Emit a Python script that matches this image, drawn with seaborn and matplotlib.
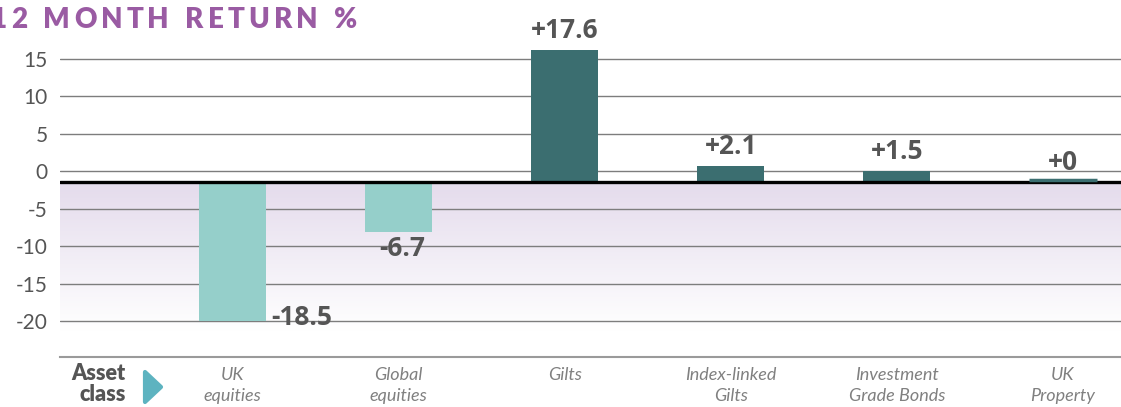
import numpy as np
import pandas as pd
import matplotlib.pyplot as plt
import seaborn as sns
from matplotlib.colors import LinearSegmentedColormap
from matplotlib.patches import Polygon

# data
categories = ['UK\nequities', 'Global\nequities', 'Gilts', 'Index-linked\nGilts',
              'Investment\nGrade Bonds', 'UK\nProperty']
returns = [-18.5, -6.7, 17.6, 2.1, 1.5, 0.0]
value_labels = ['-18.5', '-6.7', '+17.6', '+2.1', '+1.5', '+0']
y_ticks = [15, 10, 5, 0, -5, -10, -15, -20]
title = '12 MONTH RETURN %'

baseline = -1.45
neg_color = '#95cfca'
pos_color = '#3b6e70'
purple = '#9a5ba3'
W, H = 1121, 407

sns.set_style('white')
plt.rcParams['font.family'] = ['Lato', 'DejaVu Sans']

fig = plt.figure(figsize=(W / 100, H / 100), dpi=100)
ax = fig.add_axes([60 / W, 50 / H, 1061 / W, 357 / H])

xlim = (-1.04, 5.35)
ylim = (-24.8, 22.8)

# purple wash below the baseline
cmap = LinearSegmentedColormap.from_list('wash', [(0, '#e4dbec'), (0.85, '#ffffff'), (1, '#ffffff')])
ax.imshow(np.linspace(0, 1, 256).reshape(-1, 1), cmap=cmap, aspect='auto', origin='upper',
          extent=[xlim[0], xlim[1], ylim[0], baseline], zorder=0)

for t in y_ticks:
    ax.axhline(t, color='#7d7d7d', lw=1, zorder=1)

df = pd.DataFrame({'category': categories, 'return': returns})
palette = {c: (neg_color if v < 0 else pos_color) for c, v in zip(categories, returns)}
sns.barplot(data=df, x='category', y='return', hue='category', palette=palette,
            saturation=1, width=0.405, legend=False, ax=ax, zorder=2, linewidth=0)

for p, v in zip(ax.patches, returns):
    p.set_y(baseline)
    p.set_linewidth(0)
    if v == 0:
        # a zero bar still shows as a thin sliver sitting on the baseline
        p.set_y(baseline + 0.25)
        p.set_edgecolor(pos_color)
        p.set_linewidth(2.5)
        p.set_zorder(4)

ax.axhline(baseline, color='black', lw=2.4, zorder=3)

# value labels
lab_kw = dict(fontsize=19, fontweight='bold', color='#555555', family=['Open Sans', 'DejaVu Sans'])
for i, (v, lab) in enumerate(zip(returns, value_labels)):
    top = baseline + v
    if v >= 0:
        ax.text(i, top + 0.8, lab, ha='center', va='bottom', **lab_kw)
    elif v < -10:
        ax.text(i + 0.23, top - 0.6, lab, ha='left', va='baseline', **lab_kw)
    else:
        ax.text(i + 0.02, top - 0.4, lab, ha='center', va='top', **lab_kw)

ax.set_xlim(*xlim)
ax.set_ylim(*ylim)
ax.set_yticks(y_ticks)
ax.set_yticklabels([str(t) for t in y_ticks], fontsize=15, color='#555555')
ax.set_xticks(range(len(categories)))
ax.set_xticklabels(categories, fontsize=13, fontstyle='italic',
                   color='#808080', linespacing=1.4)
ax.tick_params(axis='x', length=0, pad=7)
ax.tick_params(axis='y', length=0, pad=9)
ax.set_xlabel('')
ax.set_ylabel('')
for s in ['top', 'right', 'left']:
    ax.spines[s].set_visible(False)
ax.spines['bottom'].set_color('#9a9a9a')
ax.spines['bottom'].set_linewidth(1.5)

# "Asset class" marker
fig.text(126 / W, 1 - 363 / H, 'Asset\nclass', ha='right', va='top', fontsize=15.5,
         fontweight='heavy', color='#555555', linespacing=1.0)
tri = Polygon([(145 / W, 1 - 372 / H), (145 / W, 1 - 402 / H), (161 / W, 1 - 387 / H)],
              closed=True, transform=fig.transFigure, facecolor='#5db3c0', edgecolor='#5db3c0',
              lw=3, joinstyle='round')
fig.add_artist(tri)

# letter-spaced title (the leading "1" is clipped by the left edge, as in the source)
fig.canvas.draw()
renderer = fig.canvas.get_renderer()
title_kw = dict(fontsize=20, fontweight='heavy', color=purple, va='baseline', ha='left')
widths = []
for ch in title:
    if ch == ' ':
        widths.append(8)
        continue
    t = fig.text(0, 0, ch, **title_kw)
    widths.append(t.get_window_extent(renderer).width)
    t.remove()
x0, x1 = -9, 357
gap = (x1 - x0 - sum(widths)) / (len(title) - 1)
x = x0
for ch, w in zip(title, widths):
    if ch != ' ':
        fig.text(x / W, 1 - 28 / H, ch, **title_kw)
    x += w + gap

fig.savefig('out.png', dpi=100)
